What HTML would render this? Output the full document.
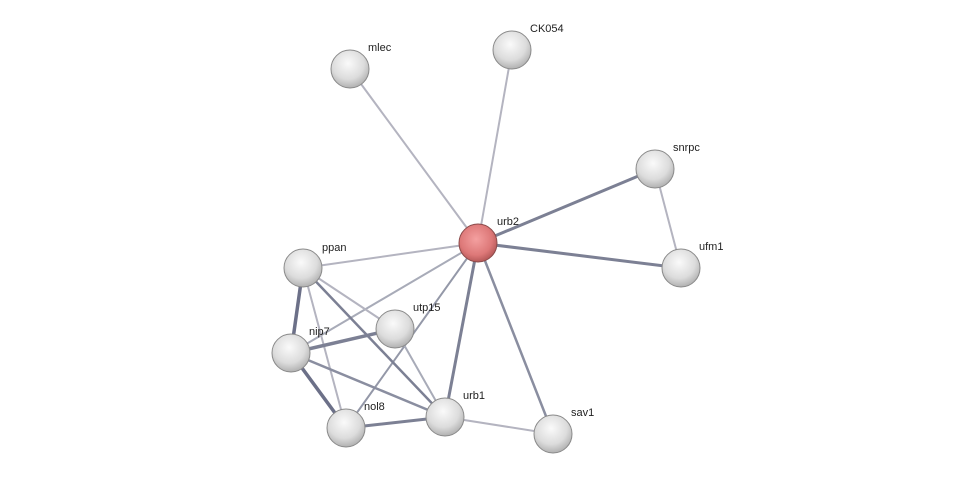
<!DOCTYPE html>
<html><head><style>body{margin:0;background:#fff}svg{display:block}text{font-family:"Liberation Sans",sans-serif;font-size:11px;fill:#222}</style></head>
<body>
<svg width="976" height="479" viewBox="0 0 976 479">
<defs>
<radialGradient id="g" cx="0.45" cy="0.35" r="0.7"><stop offset="0" stop-color="#fafafa"/><stop offset="0.6" stop-color="#dcdcdc"/><stop offset="1" stop-color="#a8a8a8"/></radialGradient>
<radialGradient id="r" cx="0.45" cy="0.4" r="0.7"><stop offset="0" stop-color="#f4a0a0"/><stop offset="0.6" stop-color="#dd7878"/><stop offset="1" stop-color="#a04848"/></radialGradient>
<g id="hl"><ellipse cx="0" cy="-11" rx="11" ry="5" fill="#fff" opacity="0.8"/></g>
</defs>
<g stroke-linecap="round">
<line x1="478" y1="243" x2="350" y2="69" stroke="#b4b4c0" stroke-width="2"/>
<line x1="478" y1="243" x2="512" y2="50" stroke="#b4b4c0" stroke-width="2"/>
<line x1="478" y1="243" x2="655" y2="169" stroke="#7c8094" stroke-width="3"/>
<line x1="478" y1="243" x2="681" y2="268" stroke="#7c8094" stroke-width="3"/>
<line x1="655" y1="169" x2="681" y2="268" stroke="#b4b4c0" stroke-width="2"/>
<line x1="478" y1="243" x2="303" y2="268" stroke="#b4b4c0" stroke-width="2"/>
<line x1="478" y1="243" x2="291" y2="353" stroke="#a8abb8" stroke-width="2"/>
<line x1="478" y1="243" x2="346" y2="428" stroke="#9498a8" stroke-width="2"/>
<line x1="478" y1="243" x2="445" y2="417" stroke="#7c8094" stroke-width="3"/>
<line x1="478" y1="243" x2="553" y2="434" stroke="#8a8ea0" stroke-width="2.5"/>
<line x1="303" y1="268" x2="291" y2="353" stroke="#6c7088" stroke-width="3.5"/>
<line x1="303" y1="268" x2="395" y2="329" stroke="#b4b4c0" stroke-width="2"/>
<line x1="303" y1="268" x2="445" y2="417" stroke="#7c8094" stroke-width="2.5"/>
<line x1="303" y1="268" x2="346" y2="428" stroke="#b4b4c0" stroke-width="2"/>
<line x1="291" y1="353" x2="395" y2="329" stroke="#7c8094" stroke-width="3.5"/>
<line x1="291" y1="353" x2="445" y2="417" stroke="#8a8ea0" stroke-width="2.5"/>
<line x1="291" y1="353" x2="346" y2="428" stroke="#6c7088" stroke-width="3.5"/>
<line x1="346" y1="428" x2="445" y2="417" stroke="#7c8094" stroke-width="3"/>
<line x1="395" y1="329" x2="445" y2="417" stroke="#a8abb8" stroke-width="2"/>
<line x1="445" y1="417" x2="553" y2="434" stroke="#b4b4c0" stroke-width="2"/>
</g>
<g stroke="#8a8a8a" stroke-width="1">
<circle cx="350" cy="69" r="19" fill="url(#g)"/>
<circle cx="512" cy="50" r="19" fill="url(#g)"/>
<circle cx="655" cy="169" r="19" fill="url(#g)"/>
<circle cx="681" cy="268" r="19" fill="url(#g)"/>
<circle cx="303" cy="268" r="19" fill="url(#g)"/>
<circle cx="395" cy="329" r="19" fill="url(#g)"/>
<circle cx="291" cy="353" r="19" fill="url(#g)"/>
<circle cx="346" cy="428" r="19" fill="url(#g)"/>
<circle cx="445" cy="417" r="19" fill="url(#g)"/>
<circle cx="553" cy="434" r="19" fill="url(#g)"/>
<circle cx="478" cy="243" r="19" fill="url(#r)" stroke="#8a4a4a"/>
</g>
<text x="368" y="51">mlec</text>
<text x="530" y="32">CK054</text>
<text x="673" y="151">snrpc</text>
<text x="497" y="225">urb2</text>
<text x="699" y="250">ufm1</text>
<text x="322" y="251">ppan</text>
<text x="413" y="311">utp15</text>
<text x="309" y="335">nip7</text>
<text x="364" y="410">nol8</text>
<text x="463" y="399">urb1</text>
<text x="571" y="416">sav1</text>
</svg>
</body></html>
